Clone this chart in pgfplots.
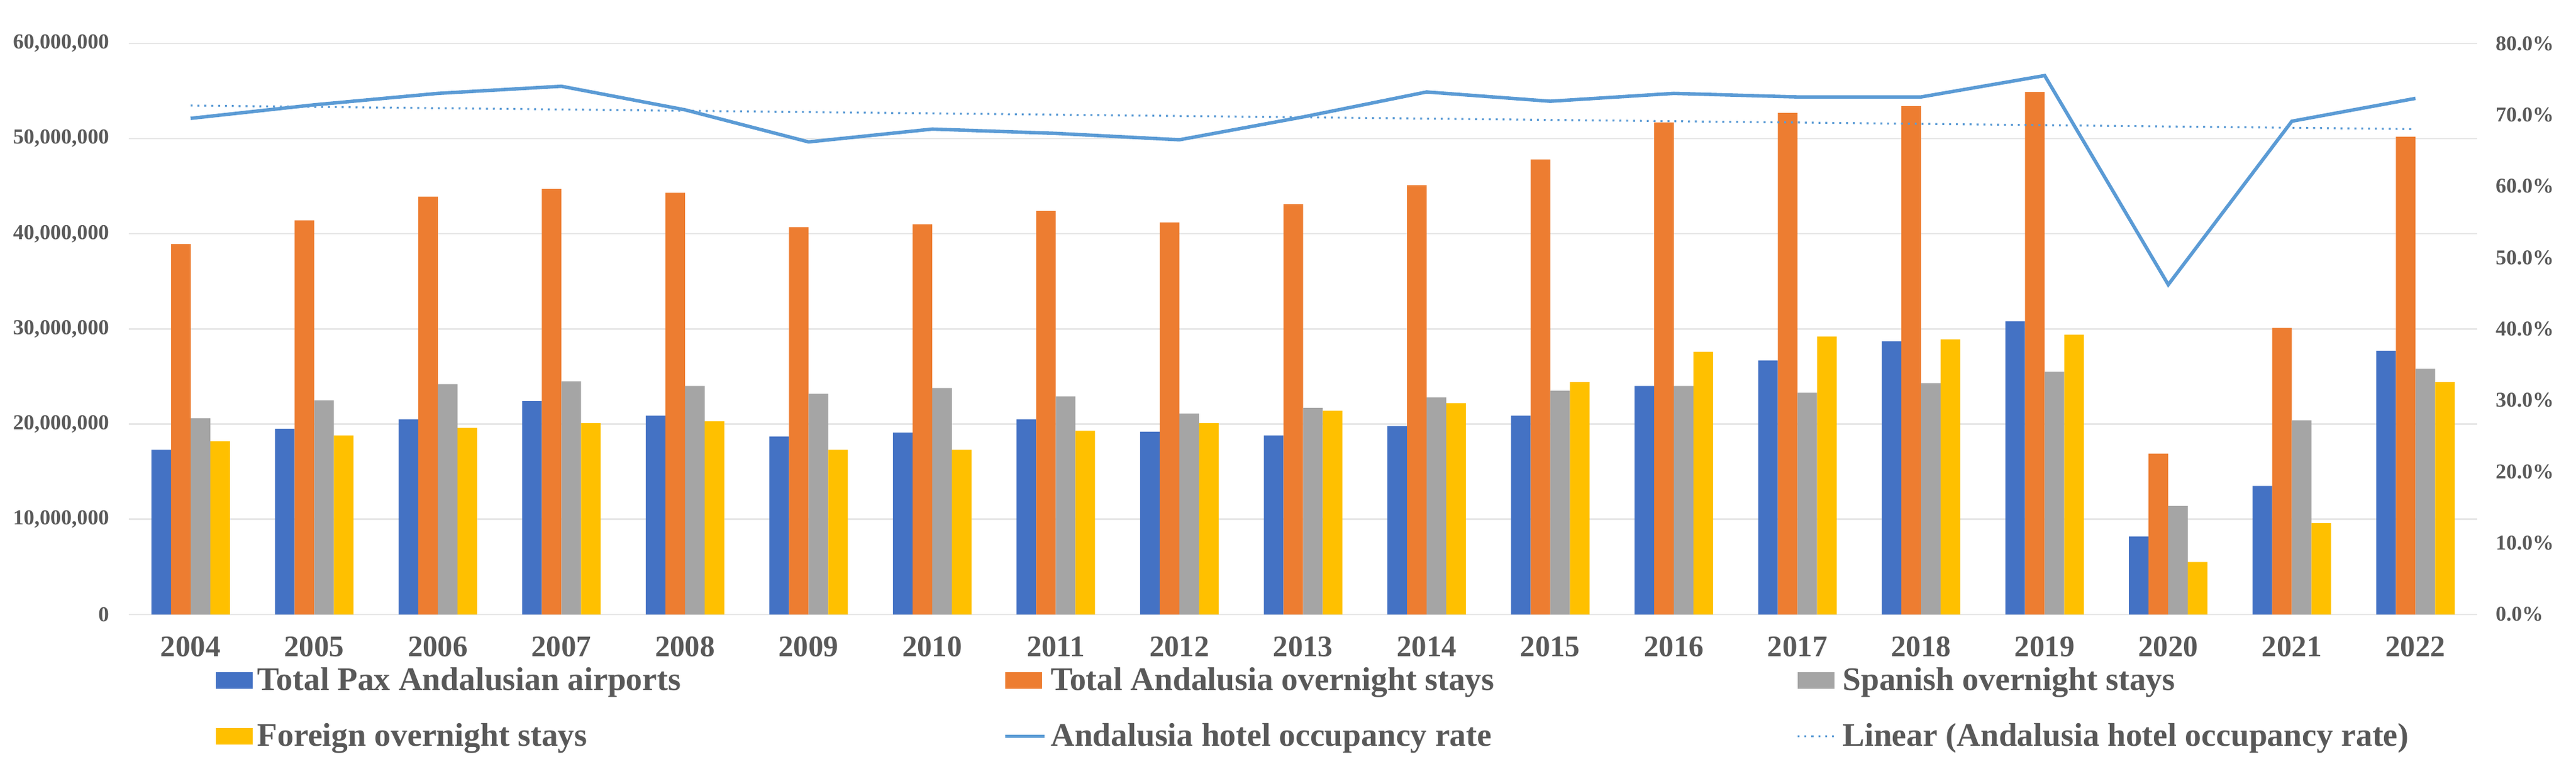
\documentclass[border=0pt]{standalone}
\usepackage{pgfplots}
\pgfplotsset{compat=1.18}
\usepackage{fontspec}
\setmainfont{Liberation Serif}
\definecolor{barblue}{HTML}{4472C4}
\definecolor{barorange}{HTML}{ED7D31}
\definecolor{bargray}{HTML}{A5A5A5}
\definecolor{baryellow}{HTML}{FFC000}
\definecolor{lineblue}{HTML}{5B9BD5}
\definecolor{txt}{HTML}{595959}
\definecolor{gridc}{HTML}{E8E8E8}
\pgfplotsset{
  barlegend/.style={legend image code/.code={\fill[##1,draw=none] (0pt,-3.35pt) rectangle (15pt,3.35pt);}},
  linelegend/.style={legend image code/.code={\draw[##1] (0pt,0pt) -- (16pt,0pt);}},
}
\newcommand{\lt}[1]{\makebox[302pt][l]{#1}}
\begin{document}
\begin{tikzpicture}
\useasboundingbox (-52.5pt,-65pt) rectangle (997.5pt,250.45pt);
\begin{axis}[
  scale only axis, width=957.25pt, height=232.75pt,
  at={(0pt,0pt)}, anchor=south west,
  xmin=-0.5, xmax=18.5, ymin=0, ymax=60000000,
  xtick={0,...,18},
  xticklabels={2004,2005,2006,2007,2008,2009,2010,2011,2012,2013,2014,2015,2016,2017,2018,2019,2020,2021,2022},
  ytick={0,10000000,20000000,30000000,40000000,50000000,60000000},
  scaled y ticks=false,
  yticklabel style={/pgf/number format/fixed, /pgf/number format/1000 sep={,}, /pgf/number format/assume math mode=true,
    font=\fontsize{8.7pt}{10pt}\bfseries, text=txt, xshift=-4.5pt},
  xticklabel style={font=\fontsize{12.2pt}{14pt}\bfseries, text=txt, yshift=-5.5pt},
  major tick length=0pt,
  axis line style={draw=none},
  ymajorgrids, grid style={gridc, line width=0.6pt},
  ybar=0pt, bar width=8pt,
  legend columns=3,
  legend style={draw=none, fill=none, at={(0.0368,-0.083)}, anchor=north west,
    font=\fontsize{13.4pt}{15pt}\bfseries, text=txt, inner sep=0pt,
    /tikz/every even column/.append style={column sep=0pt},
    row sep=8pt},
  legend cell align=left,
]
\addplot[fill=barblue, draw=none, barlegend] coordinates {
(0,17300000) (1,19500000) (2,20500000) (3,22400000) (4,20900000) (5,18700000)
(6,19100000) (7,20500000) (8,19200000) (9,18800000) (10,19800000) (11,20900000)
(12,24000000) (13,26700000) (14,28700000) (15,30800000) (16,8200000) (17,13500000) (18,27700000)};
\addplot[fill=barorange, draw=none, barlegend] coordinates {
(0,38900000) (1,41400000) (2,43900000) (3,44700000) (4,44300000) (5,40700000)
(6,41000000) (7,42400000) (8,41200000) (9,43100000) (10,45100000) (11,47800000)
(12,51700000) (13,52700000) (14,53400000) (15,54900000) (16,16900000) (17,30100000) (18,50200000)};
\addplot[fill=bargray, draw=none, barlegend] coordinates {
(0,20600000) (1,22500000) (2,24200000) (3,24500000) (4,24000000) (5,23200000)
(6,23800000) (7,22900000) (8,21100000) (9,21700000) (10,22800000) (11,23500000)
(12,24000000) (13,23300000) (14,24300000) (15,25500000) (16,11400000) (17,20400000) (18,25800000)};
\addplot[fill=baryellow, draw=none, barlegend] coordinates {
(0,18200000) (1,18800000) (2,19600000) (3,20100000) (4,20300000) (5,17300000)
(6,17300000) (7,19300000) (8,20100000) (9,21400000) (10,22200000) (11,24400000)
(12,27600000) (13,29200000) (14,28900000) (15,29400000) (16,5500000) (17,9600000) (18,24400000)};
\addlegendimage{lineblue, line width=1.4pt, linelegend}
\addlegendimage{lineblue, line width=0.8pt, dotted, linelegend}
\legend{\lt{Total Pax Andalusian airports},\lt{Total Andalusia overnight stays},\lt{Spanish overnight stays},\lt{Foreign overnight stays},\lt{Andalusia hotel occupancy rate},\lt{Linear (Andalusia hotel occupancy rate)}}
\end{axis}
\begin{axis}[
  scale only axis, width=957.25pt, height=232.75pt,
  at={(0pt,0pt)}, anchor=south west,
  xmin=-0.5, xmax=18.5, ymin=0, ymax=80,
  axis y line*=right, axis x line=none,
  ytick={0,10,...,80},
  yticklabel={\pgfmathprintnumber[fixed,fixed zerofill,precision=1,assume math mode=true]{\tick}\%},
  yticklabel style={font=\fontsize{8.6pt}{10pt}\bfseries, text=txt, xshift=4pt},
  major tick length=0pt,
  axis line style={draw=none},
]
\addplot[lineblue, line width=0.8pt, dotted] coordinates {(0,71.3) (18,68.0)};
\addplot[lineblue, line width=1.4pt, mark=none] coordinates {
(0,69.5) (1,71.4) (2,73.0) (3,74.0) (4,70.7) (5,66.2) (6,68.0) (7,67.4) (8,66.5)
(9,69.7) (10,73.2) (11,71.9) (12,73.0) (13,72.5) (14,72.5) (15,75.5) (16,46.2) (17,69.1) (18,72.3)};
\end{axis}
\end{tikzpicture}
\end{document}
